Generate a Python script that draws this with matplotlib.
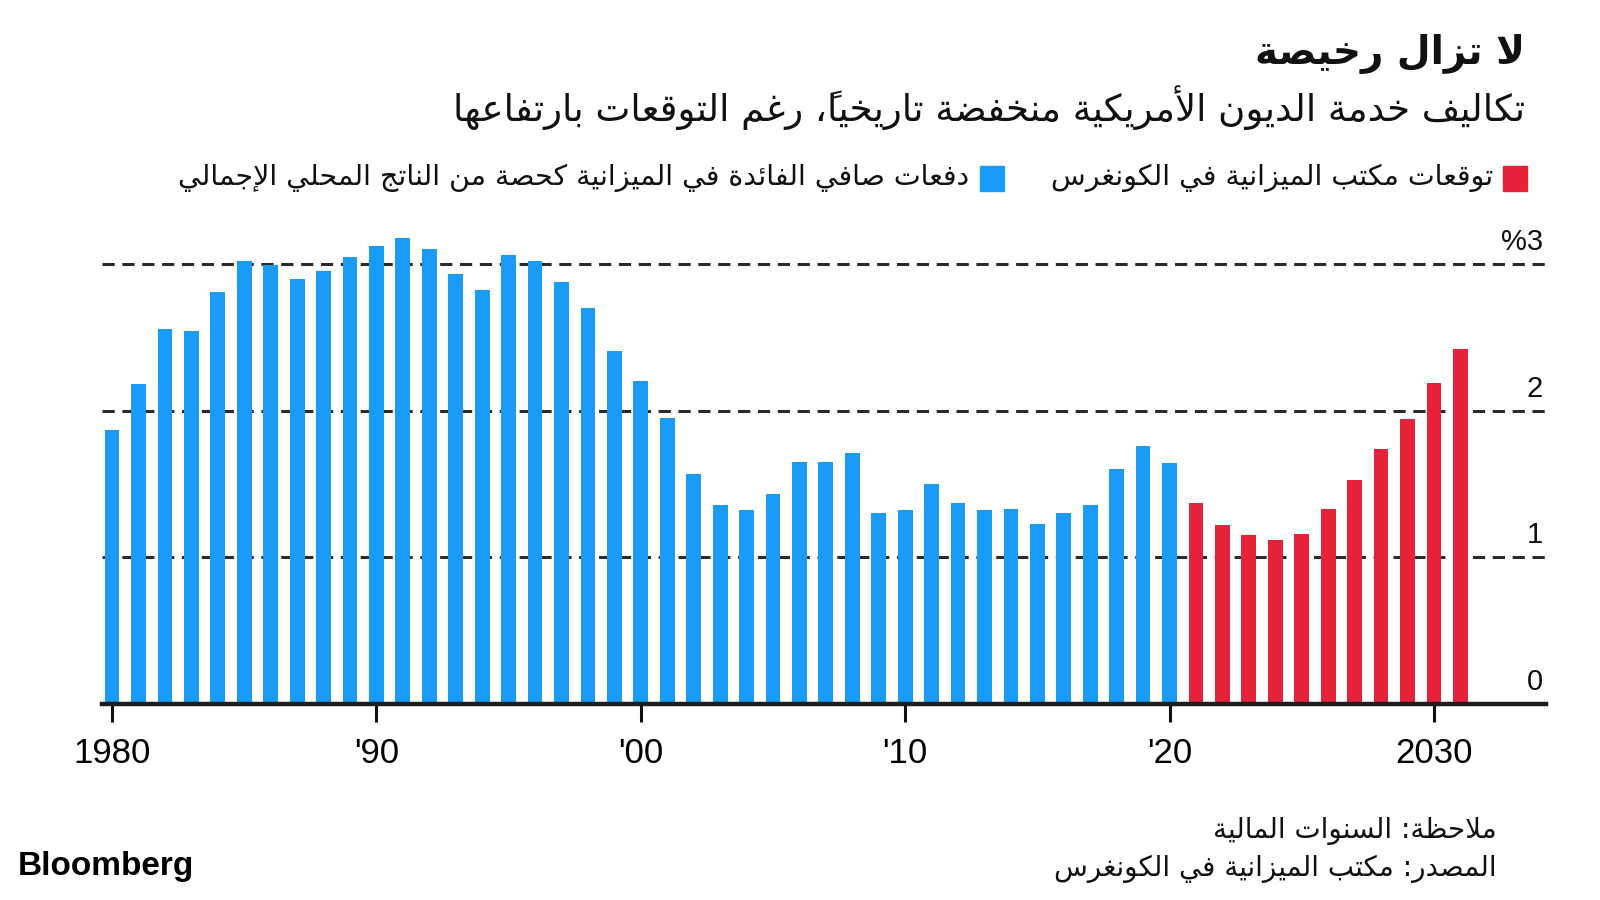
import matplotlib
matplotlib.use("Agg")
import matplotlib.pyplot as plt

# data (net interest as % of GDP)
hist_years = list(range(1980, 2021))
hist_values = [1.87, 2.18, 2.56, 2.54, 2.81, 3.02, 2.99, 2.90, 2.95, 3.05,
               3.12, 3.18, 3.10, 2.93, 2.82, 3.06, 3.02, 2.88, 2.70, 2.41,
               2.20, 1.95, 1.57, 1.36, 1.32, 1.43, 1.65, 1.65, 1.71, 1.30,
               1.32, 1.50, 1.37, 1.32, 1.33, 1.23, 1.30, 1.36, 1.60, 1.76,
               1.64]
proj_years = list(range(2021, 2032))
proj_values = [1.37, 1.22, 1.15, 1.12, 1.16, 1.33, 1.53, 1.74, 1.94, 2.19, 2.42]

x_ticks = [1980, 1990, 2000, 2010, 2020, 2030]
x_labels = ["1980", "'90", "'00", "'10", "'20", "2030"]
y_ticks = [0, 1, 2, 3]
y_labels = ["0", "1", "2", "%3"]

title = "لا تزال رخيصة"
subtitle = "تكاليف خدمة الديون الأمريكية منخفضة تاريخياً، رغم التوقعات بارتفاعها"
legend_proj = "توقعات مكتب الميزانية في الكونغرس"
legend_hist = "دفعات صافي الفائدة في الميزانية كحصة من الناتج المحلي الإجمالي"
note = "ملاحظة: السنوات المالية"
source = "المصدر: مكتب الميزانية في الكونغرس"

BLUE = "#189CF7"
RED = "#E6223B"

# --- minimal Arabic shaping (matplotlib draws glyphs left to right, unshaped) ---
TWO = {'آ': 0xFE81, 'أ': 0xFE83, 'ؤ': 0xFE85, 'إ': 0xFE87, 'ا': 0xFE8D,
       'ة': 0xFE93, 'د': 0xFEA9, 'ذ': 0xFEAB, 'ر': 0xFEAD, 'ز': 0xFEAF,
       'و': 0xFEED, 'ى': 0xFEEF}
FOUR = {'ئ': 0xFE89, 'ب': 0xFE8F, 'ت': 0xFE95, 'ث': 0xFE99, 'ج': 0xFE9D,
        'ح': 0xFEA1, 'خ': 0xFEA5, 'س': 0xFEB1, 'ش': 0xFEB5, 'ص': 0xFEB9,
        'ض': 0xFEBD, 'ط': 0xFEC1, 'ظ': 0xFEC5, 'ع': 0xFEC9, 'غ': 0xFECD,
        'ف': 0xFED1, 'ق': 0xFED5, 'ك': 0xFED9, 'ل': 0xFEDD, 'م': 0xFEE1,
        'ن': 0xFEE5, 'ه': 0xFEE9, 'ي': 0xFEF1}
LAMALEF = {'آ': 0xFEF5, 'أ': 0xFEF7, 'إ': 0xFEF9, 'ا': 0xFEFB}


def is_mark(c):
    return 0x064B <= ord(c) <= 0x065F


def ar(text):
    units = []
    i = 0
    while i < len(text):
        c = text[i]
        if c == 'ل' and i + 1 < len(text) and text[i + 1] in LAMALEF:
            units.append(['LA' + text[i + 1], ''])
            i += 2
            continue
        if is_mark(c) and units:
            units[-1][1] += c
            i += 1
            continue
        units.append([c, ''])
        i += 1
    glyphs = []
    for k, (c, marks) in enumerate(units):
        prev = units[k - 1][0] if k > 0 else ''
        nxt = units[k + 1][0] if k + 1 < len(units) else ''
        jp = prev in FOUR
        jn = nxt in FOUR or nxt in TWO or nxt.startswith('LA')
        if c.startswith('LA'):
            g = chr(LAMALEF[c[2]] + (1 if jp else 0))
        elif c in FOUR:
            b = FOUR[c]
            if jp and jn:
                g = chr(b + 3)
            elif jp:
                g = chr(b + 1)
            elif jn:
                g = chr(b + 2)
            else:
                g = chr(b)
        elif c in TWO:
            g = chr(TWO[c] + (1 if jp else 0))
        else:
            g = c
        glyphs.append(marks + g)
    return ''.join(reversed(glyphs))


AR_FONT = ['DejaVu Sans']
NUM_FONT = ['Liberation Sans', 'DejaVu Sans']

fig = plt.figure(figsize=(16, 9), dpi=100)
ax = fig.add_axes([102 / 1600, 1 - 704 / 900, (1546 - 102) / 1600, (704 - 220) / 900])

# bars
ax.bar(hist_years, hist_values, width=0.56, color=BLUE, zorder=3)
ax.bar(proj_years, proj_values, width=0.56, color=RED, zorder=3)

# dashed gridlines
for v in y_ticks[1:]:
    ax.axhline(v, color="#2b2b2b", lw=2.2, dashes=(4, 2.5), zorder=1)

ax.set_xlim(1979.62, 2034.24)
ax.set_ylim(0, 3.3)

for s in ["top", "left", "right"]:
    ax.spines[s].set_visible(False)
ax.spines["bottom"].set_linewidth(3.2)
ax.spines["bottom"].set_color("#1e1e1e")
ax.spines["bottom"].set_zorder(4)

ax.set_yticks([])
ax.set_xticks(x_ticks)
ax.set_xticklabels(x_labels, fontsize=25, family=NUM_FONT)
ax.tick_params(axis="x", length=13, width=2.2, color="#111111", pad=11)

# y labels sit on the right, just above each line
for v, lab in zip(y_ticks, y_labels):
    ax.text(0.998, v + 0.15, lab, transform=ax.get_yaxis_transform(),
            ha="right", va="center", fontsize=21, family=NUM_FONT, color="#111111")

# titles
fig.text(1525 / 1600, 1 - 54 / 900, ar(title), ha="right", va="center",
         fontsize=28, fontweight="bold", family=AR_FONT, color="#111111")
fig.text(1525 / 1600, 1 - 108 / 900, ar(subtitle), ha="right", va="center",
         fontsize=26.7, family=AR_FONT, color="#111111")

# legend
fig.patches.append(plt.Rectangle((1503 / 1600, 1 - 191 / 900), 24 / 1600, 25 / 900,
                                 transform=fig.transFigure, color=RED, figure=fig))
fig.text(1493 / 1600, 1 - 178 / 900, ar(legend_proj), ha="right", va="center",
         fontsize=20.5, family=AR_FONT, color="#111111")
fig.patches.append(plt.Rectangle((980 / 1600, 1 - 191 / 900), 24 / 1600, 25 / 900,
                                 transform=fig.transFigure, color=BLUE, figure=fig))
fig.text(969 / 1600, 1 - 178 / 900, ar(legend_hist), ha="right", va="center",
         fontsize=20.5, family=AR_FONT, color="#111111")

# footer
fig.text(1497 / 1600, 1 - 831 / 900, ar(note), ha="right", va="center",
         fontsize=20, family=AR_FONT, color="#111111")
fig.text(1497 / 1600, 1 - 869 / 900, ar(source), ha="right", va="center",
         fontsize=20, family=AR_FONT, color="#111111")
fig.text(18 / 1600, 1 - 867 / 900, "Bloomberg", ha="left", va="center",
         fontsize=24, fontweight="bold", family=["Liberation Sans", "DejaVu Sans"],
         color="#000000")

fig.savefig("out.png", dpi=100, facecolor="white")
